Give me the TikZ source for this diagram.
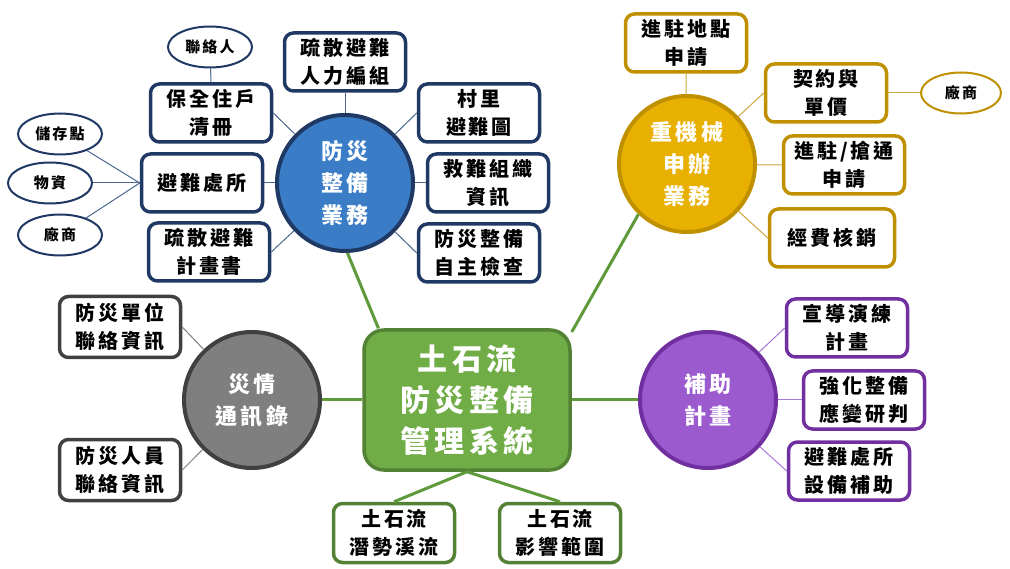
\documentclass[tikz,border=0pt]{standalone}
\usepackage{fontspec}
\newfontfamily\cjk{Noto Sans CJK TC}[LetterSpace=14]
\usetikzlibrary{shapes.geometric}
\definecolor{cNavy}{HTML}{1F3864}
\definecolor{cBlue}{HTML}{3A7DC6}
\definecolor{cBlueLn}{HTML}{4A6890}
\definecolor{cGoldF}{HTML}{E8B000}
\definecolor{cGoldB}{HTML}{BF9000}
\definecolor{cGoldLn}{HTML}{CCA840}
\definecolor{cGrayF}{HTML}{7F7F7F}
\definecolor{cGrayB}{HTML}{404040}
\definecolor{cGrayLn}{HTML}{808080}
\definecolor{cGreenF}{HTML}{70AD47}
\definecolor{cGreenB}{HTML}{548235}
\definecolor{cGreenLn}{HTML}{5E9A3A}
\definecolor{cPurF}{HTML}{9B5BCF}
\definecolor{cPurB}{HTML}{7030A0}
\definecolor{cPurLn}{HTML}{A878D8}
\tikzset{
  base/.style={align=center, inner sep=0pt, font=\cjk\bfseries\fontsize{20}{28}\selectfont},
  box/.style={base, line width=3.5pt, fill=white, rounded corners=9pt, minimum width=121pt, minimum height=58pt},
  bbox/.style={box, draw=cNavy},
  obox/.style={box, draw=cGoldB},
  gbox/.style={box, draw=cGrayB},
  sbox/.style={box, draw=cGreenB},
  pbox/.style={box, draw=cPurB},
  circ/.style={circle, align=center, inner sep=0pt, line width=4pt, minimum size=136pt, text=white, font=\cjk\bfseries\fontsize{22}{32}\selectfont},
  ell/.style={ellipse, draw, line width=2pt, fill=white, inner sep=0pt, minimum width=84pt, minimum height=41pt, font=\cjk\bfseries\fontsize{15}{20}\selectfont},
  thin/.style={line width=1pt},
  thick/.style={line width=3pt, draw=cGreenLn}
}
\begin{document}
\begin{tikzpicture}[x=1pt,y=-1pt]
\useasboundingbox (0,0) rectangle (1010,569);
\fill[white] (0,0) rectangle (1010,569);

% center
\node[base, draw=cGreenB, fill=cGreenF, line width=3.5pt, rounded corners=20pt, minimum width=206pt, minimum height=140pt, text=white, font=\cjk\bfseries\fontsize{30}{41}\selectfont] (sys) at (467,400) {土石流\\防災整備\\管理系統};

% blue group
\node[circ, draw=cNavy, fill=cBlue] (fz) at (345,183) {防災\\整備\\業務};
\node[bbox] (b1) at (345,62) {疏散避難\\人力編組};
\node[bbox] (b2) at (479,113) {村里\\避難圖};
\node[bbox] (b3) at (488,183) {救難組織\\資訊};
\node[bbox] (b4) at (479,253) {防災整備\\自主檢查};
\node[bbox] (b5) at (211,113) {保全住戶\\清冊};
\node[bbox] (b6) at (202,183) {避難處所};
\node[bbox] (b7) at (209,252) {疏散避難\\計畫書};
\node[ell, draw=cNavy] (e1) at (210,47) {聯絡人};
\node[ell, draw=cNavy] (e2) at (60,134) {儲存點};
\node[ell, draw=cNavy] (e3) at (50,183) {物資};
\node[ell, draw=cNavy] (e4) at (60,235) {廠商};

% orange group
\node[circ, draw=cGoldB, fill=cGoldF] (zj) at (687,164) {重機械\\申辦\\業務};
\node[obox] (o1) at (686,43) {進駐地點\\申請};
\node[obox] (o2) at (826,93) {契約與\\單價};
\node[ell, draw=cGoldB, minimum width=80pt] (oe) at (961,93) {廠商};
\node[obox] (o3) at (844,165) {進駐/搶通\\申請};
\node[obox, minimum width=125pt] (o4) at (832,238) {經費核銷};

% gray group
\node[circ, draw=cGrayB, fill=cGrayF] (gc) at (252,400) {災情\\通訊錄};
\node[gbox, minimum height=61pt] (g1) at (120,327) {防災單位\\聯絡資訊};
\node[gbox, minimum height=61pt] (g2) at (120,470) {防災人員\\聯絡資訊};

% green children
\node[sbox, minimum height=59pt] (s1) at (394,533) {土石流\\潛勢溪流};
\node[sbox, minimum height=59pt] (s2) at (560,533) {土石流\\影響範圍};

% purple group
\node[circ, draw=cPurB, fill=cPurF] (pc) at (708,400) {補助\\計畫};
\node[pbox] (p1) at (847,328) {宣導演練\\計畫};
\node[pbox] (p2) at (864,400) {強化整備\\應變研判};
\node[pbox] (p3) at (849,471) {避難處所\\設備補助};

% connectors
\begin{scope}[thin, draw=cBlueLn]
\draw (fz) -- (b1.south);
\draw (fz) -- (b2.west);
\draw (fz) -- (b3.west);
\draw (fz) -- (b4.west);
\draw (fz) -- (b5.east);
\draw (fz) -- (b6.east);
\draw (fz) -- (b7.east);
\draw (e1) -- (b5.north);
\draw (b6.west) -- (e2);
\draw (b6.west) -- (e3);
\draw (b6.west) -- (e4);
\end{scope}
\begin{scope}[thin, draw=cGoldLn]
\draw (zj) -- (o1.south);
\draw (zj) -- (o2.west);
\draw (zj) -- (o3.west);
\draw (zj) -- (o4.west);
\draw (o2.east) -- (oe);
\end{scope}
\begin{scope}[thin, draw=cGrayLn]
\draw (gc) -- (g1.east);
\draw (gc) -- (g2.east);
\end{scope}
\begin{scope}[thin, draw=cPurLn]
\draw (pc) -- (p1.west);
\draw (pc) -- (p2.west);
\draw (pc) -- (p3.west);
\end{scope}
\draw[thick] (fz.-88) -- (sys.141);
\draw[thick] (zj.226) -- (sys.33);
\draw[thick] (gc) -- (sys.west);
\draw[thick] (sys.east) -- (pc);
\draw[thick] (sys.south) -- (s1.north);
\draw[thick] (sys.south) -- (s2.north);
\end{tikzpicture}
\end{document}
